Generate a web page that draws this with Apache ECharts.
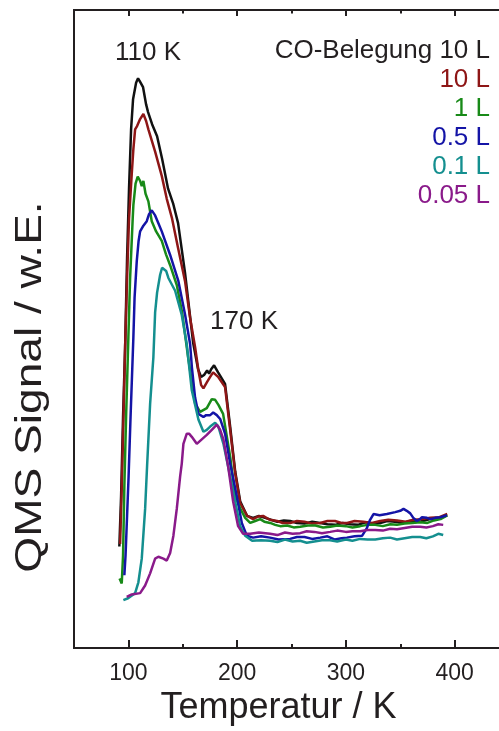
<!DOCTYPE html>
<html>
<head>
<meta charset="utf-8">
<script src="https://cdn.jsdelivr.net/npm/echarts@6/dist/echarts.min.js"></script>
<style>
  html, body { margin: 0; padding: 0; background: #ffffff; }
  #chart { width: 499px; height: 731px; }
</style>
</head>
<body>
<div id="chart"></div>
<script>
// Thermal desorption spectra of CO: [temperature in K, QMS signal in arbitrary units]
const co10Black = [
  [91.7,15.9],[93.3,23.8],[95.1,36.2],[97.0,47.1],[98.8,61.1],[100.6,72.0],[102.5,81.3],[104.3,86.0],
  [107.1,88.6],[108.9,89.3],[110.3,88.9],[111.7,89.1],[113.5,87.9],[116.3,85.2],[118.1,84.0],[121.8,82.1],
  [126.4,80.2],[131.0,76.7],[136.5,72.0],[141.1,69.7],[145.7,66.6],[152.1,58.8],[159.5,47.9],[164.1,43.7],
  [166.9,42.5],[169.6,42.8],[172.4,43.5],[174.2,43.0],[176.1,43.7],[178.8,44.3],[182.5,43.2],[188.9,41.4],
  [193.6,34.7],[198.2,27.7],[202.8,23.0],[209.2,20.7],[214.7,20.4],[220.0,20.7],[225.8,20.4],[231.0,20.1],
  [237.0,19.8],[243.0,20.0],[248.8,19.9],[255.0,19.6],[262.0,19.5],[269.0,19.8],[276.4,19.6],[283.0,19.4],
  [290.0,19.3],[297.0,19.6],[304.0,19.4],[311.0,19.3],[318.0,19.7],[325.0,19.5],[331.6,19.6],[338.0,19.9],
  [345.0,19.8],[352.0,19.6],[359.2,19.9],[368.0,19.8],[377.6,20.2],[386.0,20.4],[393.2,20.8]
];
const co10Red = [
  [92.4,16.3],[94.2,26.9],[97.0,47.1],[98.8,58.0],[100.6,67.3],[103.1,74.3],[104.6,78.2],[106.2,81.3],
  [108.0,81.8],[110.8,82.9],[113.8,83.7],[116.3,82.6],[118.4,81.3],[124.6,77.8],[130.7,74.0],[135.3,70.4],
  [140.2,67.3],[145.7,62.7],[152.1,57.5],[156.7,51.8],[161.4,47.1],[164.4,43.5],[166.9,41.2],[169.0,40.7],
  [172.4,41.7],[175.2,42.5],[177.9,43.2],[182.5,42.5],[188.9,40.9],[193.6,34.2],[198.2,27.4],[202.8,22.7],
  [209.2,20.7],[214.7,20.2],[219.0,20.6],[223.9,20.7],[230.0,20.1],[236.8,19.9],[242.0,19.6],[248.8,19.6],
  [255.0,19.9],[262.0,19.8],[269.0,19.5],[276.4,19.6],[283.0,19.9],[290.0,19.9],[296.0,19.6],[301.2,19.6],
  [308.0,19.9],[316.0,19.8],[324.0,19.6],[331.6,19.9],[339.0,20.1],[347.0,20.0],[355.0,19.8],[362.0,20.1],
  [370.0,20.2],[377.6,20.4],[386.0,20.5],[393.2,21.0]
];
const co1Green = [
  [91.9,10.9],[93.9,10.1],[95.1,14.5],[96.3,25.3],[97.9,36.2],[100.0,48.7],[101.6,58.0],[104.0,67.4],
  [104.6,69.4],[106.6,72.8],[108.6,73.9],[110.8,73.2],[112.3,72.4],[113.8,73.2],[115.8,71.2],[118.4,70.0],
  [121.5,66.9],[125.5,65.3],[130.7,63.8],[134.6,61.7],[138.4,60.0],[144.5,56.9],[149.4,52.6],[154.9,45.6],
  [161.4,38.3],[166.0,37.0],[172.1,37.6],[176.7,39.0],[179.8,38.9],[182.8,38.1],[187.1,36.7],[193.6,30.0],
  [198.2,23.8],[202.8,21.9],[207.4,20.4],[212.0,19.6],[216.6,19.9],[221.2,20.2],[225.0,19.8],[230.4,19.6],
  [235.0,19.3],[239.6,19.1],[246.0,19.2],[252.0,18.9],[258.0,19.0],[265.0,19.2],[272.0,19.2],[279.0,18.9],
  [285.6,19.0],[292.0,19.2],[300.0,19.1],[306.0,18.9],[313.2,19.1],[320.0,19.3],[327.0,19.3],[334.0,19.1],
  [340.8,19.4],[347.0,19.3],[354.0,19.5],[361.0,19.6],[368.4,19.7],[375.0,19.6],[381.0,20.0],[387.0,20.2],
  [393.2,20.8]
];
const co05Blue = [
  [96.3,11.4],[97.4,14.5],[98.8,20.7],[100.2,26.9],[102.0,36.2],[104.6,48.7],[105.7,54.9],[107.7,60.6],
  [109.4,63.8],[110.8,65.3],[113.8,66.2],[116.9,66.9],[119.0,68.0],[121.5,68.6],[124.6,67.8],[127.3,66.7],
  [130.7,65.3],[138.4,61.6],[146.0,57.5],[152.2,52.2],[156.8,47.6],[158.4,44.0],[161.3,39.3],[164.4,36.7],
  [169.0,36.2],[171.5,36.5],[175.2,36.5],[178.0,36.9],[181.3,36.5],[184.4,35.9],[188.9,33.6],[193.6,28.9],
  [199.7,23.8],[204.3,19.6],[208.9,17.6],[214.7,17.3],[222.0,17.5],[230.3,17.3],[238.0,17.0],[248.7,17.1],
  [255.0,17.4],[262.0,17.4],[269.0,17.1],[276.4,17.3],[283.0,17.5],[290.0,17.0],[296.0,17.2],[300.9,17.3],
  [308.0,17.5],[315.0,17.6],[319.3,18.8],[322.0,20.0],[325.4,21.0],[331.0,20.8],[337.7,21.0],[345.4,21.3],
  [350.0,21.5],[353.0,21.8],[356.0,21.5],[359.2,21.1],[362.0,20.4],[365.3,19.9],[368.0,20.2],[370.0,20.5],
  [374.5,20.4],[378.0,20.2],[382.2,20.4],[387.0,20.5],[392.9,20.8]
];
const co01Teal = [
  [95.4,7.5],[99.7,7.8],[106.2,8.6],[109.2,10.3],[112.3,14.0],[115.4,21.8],[117.2,28.5],[120.0,38.3],
  [123.0,45.6],[124.6,52.6],[126.4,55.7],[129.2,58.5],[131.0,59.6],[132.8,59.9],[134.7,59.1],[136.8,58.0],
  [143.0,56.0],[149.1,52.2],[153.7,47.6],[158.3,40.4],[164.4,35.8],[169.0,33.9],[172.1,34.2],[175.2,34.7],
  [179.8,35.3],[182.8,34.7],[187.4,32.0],[193.6,26.9],[199.1,22.2],[202.8,19.1],[207.4,17.6],[213.8,16.8],
  [222.0,16.9],[230.3,16.8],[237.0,16.6],[244.0,17.0],[251.0,16.7],[257.9,16.8],[264.0,16.5],[271.0,16.7],
  [278.0,16.9],[285.5,16.9],[292.0,16.7],[300.0,17.0],[306.0,16.8],[313.1,17.1],[320.0,17.0],[327.0,17.0],
  [334.0,17.2],[340.7,17.3],[347.0,17.0],[354.0,17.2],[361.0,17.4],[368.3,17.4],[374.0,17.2],[380.0,17.5],
  [385.0,17.9],[389.5,17.7]
];
const co005Purple = [
  [98.5,8.0],[103.1,8.4],[110.8,8.6],[115.4,9.8],[120.0,11.7],[124.6,14.0],[127.6,14.3],[132.2,14.0],
  [135.3,13.7],[138.4,14.9],[141.4,17.6],[144.5,21.8],[147.6,26.9],[149.1,28.9],[150.6,32.0],[153.7,33.6],
  [155.8,33.6],[158.3,33.1],[162.9,32.0],[167.5,32.7],[172.1,33.4],[176.7,34.2],[181.3,35.0],[184.4,34.2],
  [187.4,32.7],[191.7,28.5],[196.3,23.0],[200.9,19.1],[205.5,17.9],[212.0,17.9],[220.0,18.1],[230.3,17.9],
  [237.0,17.7],[244.0,18.1],[251.0,17.9],[257.9,18.0],[264.0,18.3],[271.0,18.2],[278.0,18.0],[285.5,18.2],
  [292.0,18.4],[300.0,18.2],[306.0,18.3],[313.1,18.3],[320.0,18.5],[327.0,18.5],[334.0,18.4],[340.7,18.7],
  [347.0,18.6],[354.0,18.8],[361.0,19.0],[368.3,19.0],[374.0,18.9],[380.0,19.1],[385.0,19.4],[389.5,19.3]
];

const seriesNames = ['CO-Belegung 10 L', '10 L', '1 L', '0.5 L', '0.1 L', '0.05 L'];
const seriesColors = ['#111111', '#8e1616', '#188a18', '#1414a6', '#148f8f', '#8a1a8a'];
const legendColors = ['#231f20', '#8e1616', '#188a18', '#1414a6', '#148f8f', '#8a1a8a'];
const seriesData = [co10Black, co10Red, co1Green, co05Blue, co01Teal, co005Purple];

const xMajorTicks = [100, 200, 300, 400];
const xMinorTicks = [150, 250, 350];
const peakLabels = [{ text: '110 K', x: 148, y: 53 }, { text: '170 K', x: 244, y: 322 }];

const textColor = '#231f20';
const font = 'Arial, "Liberation Sans", sans-serif';

const chart = echarts.init(document.getElementById('chart'), null, { renderer: 'canvas' });

// The frame runs off the right edge of the page, so the axis stops at the page border.
const xMin = 50;
const xMax = 440.8;

function xAxisDef(position, ticks, len, showLabel, extra) {
  return Object.assign({
    type: 'value', position: position, min: xMin, max: xMax,
    axisLine: { show: true, onZero: false, lineStyle: { color: textColor, width: 2 } },
    axisTick: { show: true, inside: true, length: len, customValues: ticks, lineStyle: { color: textColor, width: 2 } },
    axisLabel: { show: showLabel, customValues: ticks, margin: 14, fontSize: 23, color: textColor, fontFamily: font },
    splitLine: { show: false }
  }, extra || {});
}

const legendTexts = seriesNames.map((name, i) => ({
  type: 'text', x: 490, y: 51 + i * 29,
  style: { text: name, fill: legendColors[i], font: '26px ' + font, textAlign: 'right', textVerticalAlign: 'middle' }
}));

const peakTexts = peakLabels.map(p => ({
  type: 'text', x: p.x, y: p.y,
  style: { text: p.text, fill: textColor, font: '26px ' + font, textAlign: 'center', textVerticalAlign: 'middle' }
}));

const yTitle = {
  type: 'text', x: 31, y: 387, rotation: Math.PI / 2, scaleX: 1.28,
  style: { text: 'QMS Signal / w.E.', fill: textColor, font: '36px ' + font, textAlign: 'center', textVerticalAlign: 'middle' }
};

chart.setOption({
  animation: false,
  backgroundColor: '#ffffff',
  grid: { left: 74, top: 10, right: 0, height: 643, containLabel: false },
  xAxis: [
    xAxisDef('bottom', xMajorTicks, 8, true, {
      name: 'Temperatur / K', nameLocation: 'middle', nameGap: 42,
      nameTextStyle: { fontSize: 36, color: textColor, fontFamily: font, padding: [0, 16, 0, 0] }
    }),
    xAxisDef('bottom', xMinorTicks, 4, false),
    xAxisDef('top', xMajorTicks, 6, false),
    xAxisDef('top', xMinorTicks, 3.5, false)
  ],
  yAxis: {
    type: 'value', min: 0, max: 100,
    axisLine: { show: true, lineStyle: { color: textColor, width: 2 } },
    axisTick: { show: false }, axisLabel: { show: false }, splitLine: { show: false }
  },
  series: seriesData.map((d, i) => ({
    name: seriesNames[i], type: 'line', xAxisIndex: 0, data: d,
    showSymbol: false, smooth: false,
    lineStyle: { color: seriesColors[i], width: 2.5 },
    itemStyle: { color: seriesColors[i] }
  })),
  graphic: legendTexts.concat(peakTexts, [yTitle])
});
</script>
</body>
</html>
